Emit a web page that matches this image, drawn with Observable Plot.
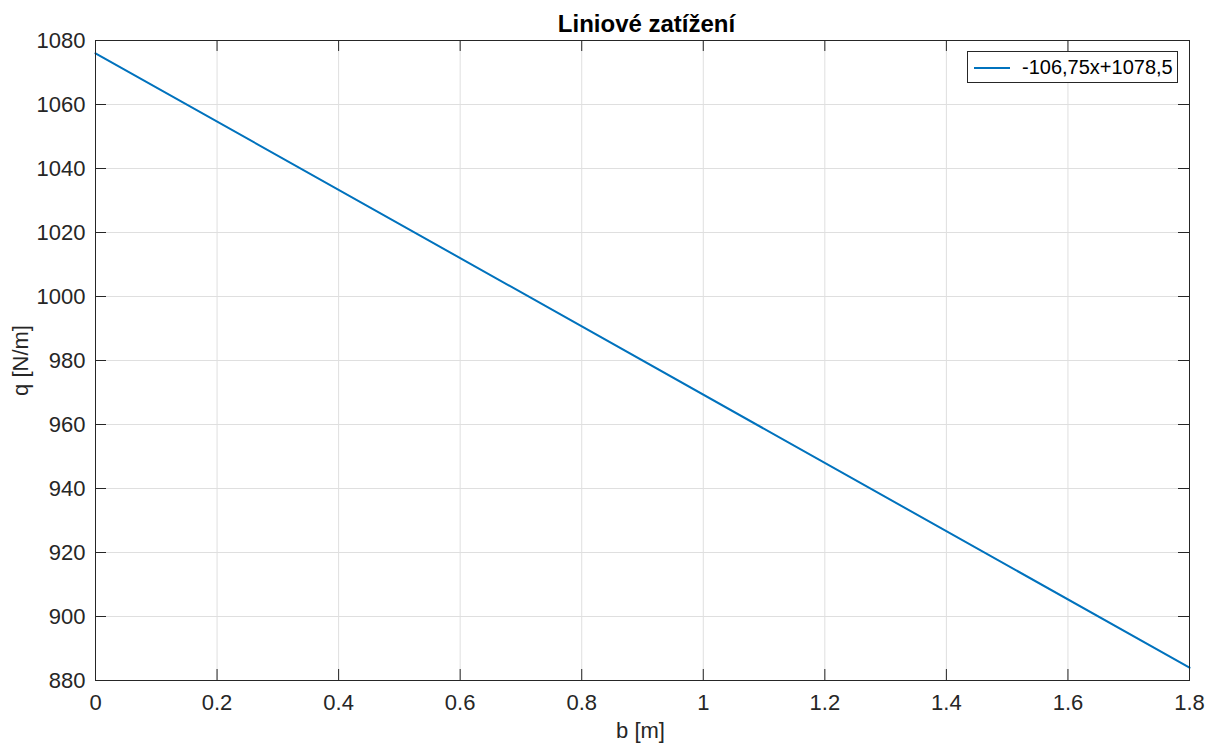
<!DOCTYPE html>
<html>
<head>
<meta charset="utf-8">
<script src="https://cdn.jsdelivr.net/npm/d3@7"></script>
<script src="https://cdn.jsdelivr.net/npm/@observablehq/plot@0.6"></script>
<style>
  html, body { margin: 0; padding: 0; background: #fff; }
  #wrap { position: relative; width: 1208px; height: 744px; font-family: "Liberation Sans", Arial, sans-serif; }
  #legend { position: absolute; left: 967px; top: 51px; width: 211px; height: 32px; border: 1px solid #262626; background: #fff; box-sizing: border-box; }
  #legend .sw { position: absolute; left: 6px; top: 15px; width: 36px; height: 0; border-top: 2px solid #0072BD; }
  #legend .lb { position: absolute; left: 54px; top: 4px; font-size: 20px; color: #000; white-space: nowrap; line-height: 22px; }
</style>
</head>
<body>
<div id="wrap"></div>
<script>
const title = "Liniové zatížení";
const xLabel = "b [m]";
const yLabel = "q [N/m]";
const seriesName = "-106,75x+1078,5";
const bValues = [0, 1.8];
const qValues = [1076, 884];
const xTicks = [0, 0.2, 0.4, 0.6, 0.8, 1, 1.2, 1.4, 1.6, 1.8];
const yTicks = [880, 900, 920, 940, 960, 980, 1000, 1020, 1040, 1060, 1080];

const data = bValues.map((b, i) => ({b, q: qValues[i]}));

const W = 1208, H = 744;
const mL = 95, mR = 19, mT = 40, mB = 64;
const fw = W - mL - mR, fh = H - mT - mB;
const tickLen = 11;
const axisColor = "#262626";
const fontFam = "'Liberation Sans', Arial, sans-serif";

const chart = Plot.plot({
  width: W, height: H,
  marginLeft: mL, marginRight: mR, marginTop: mT, marginBottom: mB,
  style: {fontFamily: fontFam, background: "#fff", color: axisColor},
  x: {domain: [0, 1.8]},
  y: {domain: [880, 1080]},
  marks: [
    Plot.gridX(xTicks, {stroke: "#dfdfdf", strokeOpacity: 1, strokeWidth: 1}),
    Plot.gridY(yTicks, {stroke: "#dfdfdf", strokeOpacity: 1, strokeWidth: 1}),
    Plot.line(data, {x: "b", y: "q", stroke: "#0072BD", strokeWidth: 2}),
    // inward ticks
    Plot.ruleX(xTicks, {x: d => d, insetTop: fh - tickLen, stroke: axisColor}),
    Plot.ruleX(xTicks, {x: d => d, insetBottom: fh - tickLen, stroke: axisColor}),
    Plot.ruleY(yTicks, {y: d => d, insetRight: fw - tickLen, stroke: axisColor}),
    Plot.ruleY(yTicks, {y: d => d, insetLeft: fw - tickLen, stroke: axisColor}),
    Plot.frame({stroke: axisColor, strokeWidth: 1}),
    Plot.axisX(xTicks, {anchor: "bottom", tickSize: 0, tickPadding: 14, fontSize: 22, fill: axisColor,
      tickFormat: d => String(d), label: null}),
    Plot.axisY(yTicks, {anchor: "left", tickSize: 0, tickPadding: 10, fontSize: 22, fill: axisColor,
      tickFormat: d => String(d), label: null}),
    Plot.text([xLabel], {frameAnchor: "bottom", lineAnchor: "bottom", dy: 57, dx: -2, fontSize: 22, fill: axisColor, text: d => d}),
    Plot.text([yLabel], {frameAnchor: "left", textAnchor: "middle", lineAnchor: "middle", dx: -75, rotate: -90, fontSize: 22, fill: axisColor, text: d => d}),
    Plot.text([title], {frameAnchor: "top", lineAnchor: "middle", dy: -16, dx: 4, fontSize: 24, fontWeight: "bold", fill: "#000", text: d => d})
  ]
});

const wrap = document.getElementById("wrap");
wrap.appendChild(chart);
const lg = document.createElement("div");
lg.id = "legend";
lg.innerHTML = `<div class="sw"></div><div class="lb"></div>`;
lg.querySelector(".lb").textContent = seriesName;
wrap.appendChild(lg);
</script>
</body>
</html>
